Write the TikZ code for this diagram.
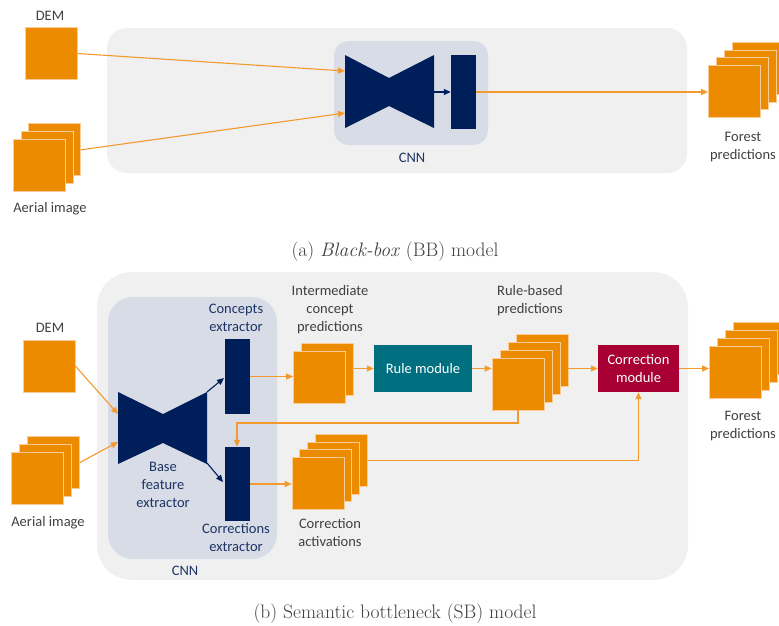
\documentclass[tikz,border=0pt]{standalone}
\usepackage{fontspec}
\newfontfamily\lbl{Carlito}
\usetikzlibrary{arrows.meta}

\definecolor{orfill}{RGB}{236,139,0}
\definecolor{oredge}{RGB}{250,205,150}
\definecolor{orline}{RGB}{242,154,45}
\definecolor{panelgray}{RGB}{240,240,240}
\definecolor{cnnbox}{RGB}{215,220,231}
\definecolor{navy}{RGB}{0,30,90}
\definecolor{navytext}{RGB}{30,52,100}
\definecolor{teal}{RGB}{0,112,128}
\definecolor{crimson}{RGB}{168,0,52}
\definecolor{txtgray}{RGB}{64,64,64}

\tikzset{
  lab/.style={font=\lbl\fontsize{14.5}{18}\selectfont, text=txtgray, align=center, inner sep=0pt},
  navylab/.style={lab, text=navytext},
  sq/.style={minimum size=52pt, inner sep=0pt, fill=orfill, draw=oredge, line width=0.7pt},
  bar/.style={fill=navy, draw=none, inner sep=0pt, minimum width=25pt},
  module/.style={draw=none, inner sep=0pt, minimum height=47pt, align=center,
    text=white, font=\lbl\fontsize{14.5}{18}\selectfont},
  orarrow/.style={draw=orline, line width=1.1pt, -{Triangle[length=7pt,width=6pt]}},
  navyarrow/.style={draw=navy, line width=1.1pt, -{Triangle[length=7pt,width=6pt]}},
  caption/.style={font=\fontsize{19.5}{24}\selectfont, text=black!75, inner sep=0pt},
}

% a stack of squares: name, x and y of the front square, index of the last one, offset
\newcommand\sqstack[5]{%
  \foreach \i in {#4,...,0}{%
    \node[sq] (#1-\i) at ({#2+#5*\i},{#3-#5*\i}) {};
  }%
}

\begin{document}
\begin{tikzpicture}[x=1pt,y=-1pt]
\useasboundingbox (0,0) rectangle (779,625);

% ---------------- (a) black-box model ----------------
\fill[panelgray, rounded corners=20pt] (107,28) rectangle (687,173);
\fill[cnnbox, rounded corners=15pt] (334,41) rectangle (488,145);

\node[sq] (dema) at (51,53.5) {};
\node[lab] (dema-l) at (50,16) {DEM};
\sqstack{aera}{39.5}{165}{2}{7.6}
\node[lab] (aera-l) at (50,209) {Aerial image};

\fill[navy] (345,55) -- (389,78) -- (434,55) -- (434,128) -- (389,106) -- (345,128) -- cycle;
\coordinate (bta-in1) at (345,71);
\coordinate (bta-in2) at (345,113);
\coordinate (bta-out) at (434,92);
\node[bar, minimum height=74pt] (bara) at (463.5,92) {};
\node[navylab] (cnna-l) at (412,158) {CNN};

\sqstack{fpa}{734.5}{91.5}{3}{7.8}
\node[lab] (fpa-l) at (743,147) {Forest\\predictions};

\draw[orarrow] (dema.east) -- (bta-in1);
\draw[orarrow] (aera-2.east) -- (bta-in2);
\draw[navyarrow] (bta-out) -- (bara.west |- bta-out);
\draw[orarrow] (bara.east) -- (bara.east -| fpa-0.west);

\node[caption] (capa) at (395,252) {(a) \textit{Black-box} (BB) model};

% ---------------- (b) semantic bottleneck model ----------------
\fill[panelgray, rounded corners=35pt] (97,272) rectangle (688,580);
\fill[cnnbox, rounded corners=25pt] (108,297) rectangle (277,559);

\node[sq] (demb) at (49,366) {};
\node[lab] (demb-l) at (50,328) {DEM};
\sqstack{aerb}{37.5}{478.5}{2}{8}
\node[lab] (aerb-l) at (48,523) {Aerial image};

\fill[navy] (118,392) -- (163,414) -- (207,392) -- (207,464) -- (163,443) -- (118,464) -- cycle;
\coordinate (btb-in1) at (118,414);
\coordinate (btb-in2) at (118,442);
\coordinate (btb-out1) at (207,392);
\coordinate (btb-out2) at (207,463);
\node[navylab] (bfe-l) at (163,485) {Base\\feature\\extractor};
\node[navylab] (cnnb-l) at (185,571) {CNN};

\node[bar, minimum height=75pt] (cbar) at (237,376.5) {};
\node[navylab] (cbar-l) at (236,318) {Concepts\\extractor};
\node[bar, minimum height=74pt] (kbar) at (237,484) {};
\node[navylab] (kbar-l) at (236,538) {Corrections\\extractor};

\sqstack{icp}{319.5}{377}{1}{8}
\node[lab] (icp-l) at (330,310) {Intermediate\\concept\\predictions};

\node[module, fill=teal, minimum width=98pt] (rule) at (423,368.5) {Rule module};

\sqstack{rbp}{518}{384}{3}{8}
\node[lab] (rbp-l) at (530,301) {Rule-based\\predictions};

\node[module, fill=crimson, minimum width=81pt] (cm) at (638.5,368.5) {Correction\\module};

\sqstack{fpb}{735.5}{372}{3}{8}
\node[lab] (fpb-l) at (743,426) {Forest\\predictions};

\sqstack{ca}{318}{483.5}{3}{7.8}
\node[lab] (ca-l) at (330,533) {Correction\\activations};

\draw[orarrow] (demb.east) -- (btb-in1);
\draw[orarrow] (aerb-2.east) -- (btb-in2);
\draw[navyarrow] (btb-out1) -- (224,378);
\draw[navyarrow] (btb-out2) -- (223,482);
\draw[orarrow] (cbar.east) -- (cbar.east -| icp-0.west);
\draw[orarrow] (icp-1.east |- rule.west) -- (rule.west);
\draw[orarrow] (rule.east) -- (rule.east -| rbp-0.west);
\draw[orarrow] (rbp-3.east |- cm.west) -- (cm.west);
\draw[orarrow] (cm.east) -- (cm.east -| fpb-0.west);
\coordinate (fb) at (237,423);
\draw[orarrow] (rbp-0.south) |- (fb) -- (kbar.north);
\draw[orarrow] (kbar.east) -- (kbar.east -| ca-0.west);
\draw[orarrow] (ca-3.east) -| (cm.south);

\node[caption] (capb) at (395,614) {(b) Semantic bottleneck (SB) model};
\end{tikzpicture}
\end{document}
